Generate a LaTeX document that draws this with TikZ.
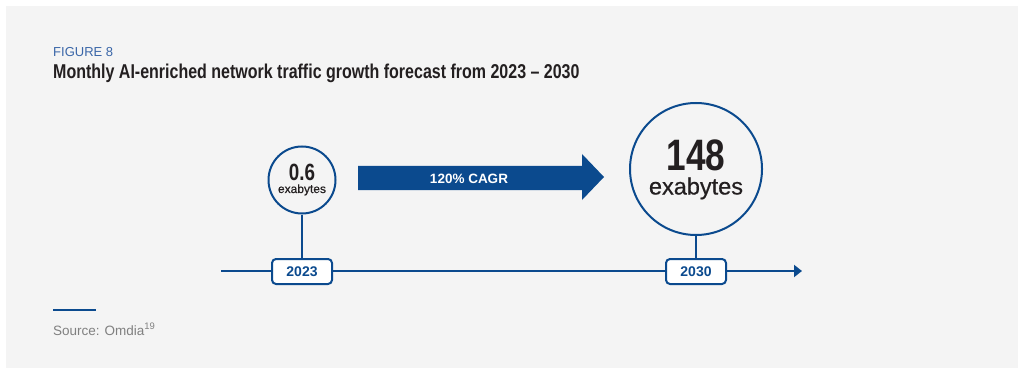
\documentclass[tikz,border=0pt]{standalone}
\usepackage{fontspec}
\setmainfont{Liberation Sans}
\newfontfamily\narrowfont[FakeStretch=0.8]{Liberation Sans}
\newfontfamily\semifont[FakeBold=0.6]{Liberation Sans}
\usetikzlibrary{arrows.meta}
\definecolor{omblue}{HTML}{0B4A8E}
\definecolor{figblue}{HTML}{3A66A8}
\definecolor{bggray}{HTML}{F4F4F4}
\definecolor{srcgray}{HTML}{808080}
\definecolor{ink}{HTML}{231F20}
\tikzset{
  yearbox/.style={draw=omblue, line width=2pt, fill=white, rounded corners=4pt,
    minimum width=60pt, minimum height=25pt, inner sep=0pt, text=omblue,
    font=\fontsize{14}{14}\selectfont\bfseries},
  bubble/.style={circle, draw=omblue, line width=2pt, fill=bggray, inner sep=0pt},
  txt/.style={inner sep=0pt, anchor=base, text=ink}
}
\begin{document}
\begin{tikzpicture}[x=1pt,y=-1pt]
\useasboundingbox (0,0) rectangle (1024,374);
\fill[bggray] (6,6) rectangle (1018,368);
\node[txt, anchor=base west, text=figblue, font=\fontsize{13}{13}\selectfont] (fig) at (53,57) {FIGURE 8};
\node[txt, anchor=base west, font=\fontsize{20}{20}\narrowfont\bfseries] (title) at (53,79) {Monthly AI-enriched network traffic growth forecast from 2023 – 2030};
\coordinate (tl) at (221,271);
\coordinate (tr) at (802,271);
\draw[omblue, line width=2pt, -{Triangle[length=8pt,width=12pt]}] (tl) -- (tr);
\node[bubble, minimum size=67pt] (c23) at (302,180) {};
\node[bubble, minimum size=132pt] (c30) at (696,169) {};
\node[yearbox] (y23) at (302,271.5) {2023};
\node[yearbox] (y30) at (696,271.5) {2030};
\draw[omblue, line width=2pt] (c23) -- (y23);
\draw[omblue, line width=2pt] (c30) -- (y30);
\node[txt, font=\fontsize{23.5}{24}\narrowfont\bfseries] (v23) at (302,180.5) {0.6};
\node[txt, font=\fontsize{12}{12}\semifont] (u23) at (302,193) {exabytes};
\node[txt, font=\fontsize{44}{44}\narrowfont\bfseries] (v30) at (696,171) {148};
\node[txt, font=\fontsize{23.5}{24}\semifont] (u30) at (696,194.5) {exabytes};
\fill[omblue] (358,166) -- (582,166) -- (582,154) -- (604,177) -- (582,200) -- (582,190) -- (358,190) -- cycle;
\node[txt, text=white, font=\fontsize{13.5}{14}\selectfont\bfseries] (cagr) at (469,183.3) {120\% CAGR};
\draw[omblue, line width=2.5pt] (53,310) -- (96,310);
\node[txt, anchor=base west, text=srcgray, font=\fontsize{13.5}{14}\selectfont] (src) at (53,335) {Source: Omdia\textsuperscript{19}};
\end{tikzpicture}
\end{document}
